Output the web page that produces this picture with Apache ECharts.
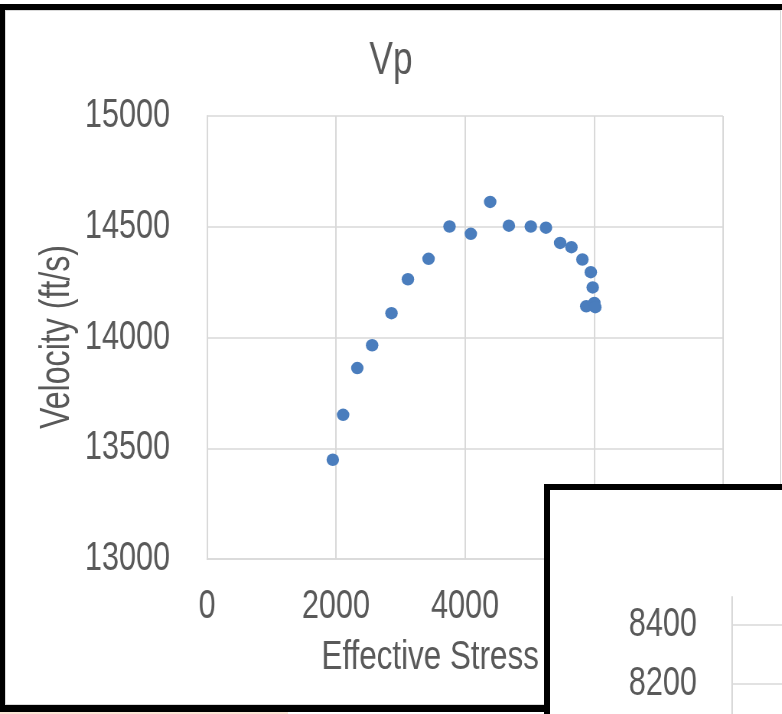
<!DOCTYPE html>
<html>
<head>
<meta charset="utf-8">
<script src="https://cdn.jsdelivr.net/npm/echarts@6/dist/echarts.min.js"></script>
<style>
  html, body { margin: 0; padding: 0; background: #fff; overflow: hidden; }
  /* Charts are laid out wide and squeezed horizontally to get narrow lettering */
  #main { position: absolute; left: 0; top: 0; width: 1022px; height: 714px;
          transform: scaleX(0.7652); transform-origin: 0 0; }
  .frame { position: absolute; left: 0; top: 4px; width: 800px; height: 708px; box-sizing: border-box;
           border-left: 5px solid #000; border-top: 6px solid #000; border-bottom: 7px solid #000; pointer-events: none; }
  .inner { position: absolute; left: 5px; top: 10px; width: 776px; height: 695px; box-sizing: border-box;
           border: 1px solid #d9d9d9; pointer-events: none; }
  .strip { position: absolute; left: 0; top: 712px; width: 288px; height: 2px; background: #fbe3d4; }
  #panel { position: absolute; left: 544px; top: 484px; width: 260px; height: 230px; box-sizing: border-box;
           border-left: 6px solid #000; border-top: 6px solid #000; background: #fff; overflow: hidden; }
  #second { position: absolute; left: 0; top: 0; width: 303px; height: 320px;
            transform: scaleX(0.7652); transform-origin: 0 0; }
</style>
</head>
<body>
<div id="main"></div>
<div class="inner"></div>
<div class="frame"></div>
<div class="strip"></div>
<div id="panel"><div id="second"></div></div>
<script>
// Effective stress (psi) and P-wave velocity (ft/s) readings
var stress = [1950, 2110, 2330, 2560, 2860, 3115, 3435, 3760, 4090, 4390, 4680,
              5020, 5255, 5475, 5650, 5820, 5950, 5980, 5880, 6005, 6020];
var velocity = [13448, 13651, 13862, 13965, 14110, 14263, 14355, 14501, 14468, 14612, 14505,
                14501, 14496, 14427, 14408, 14352, 14295, 14226, 14141, 14156, 14137];

// Axis ranges and tick spacing
var xRange = [0, 8000], xStep = 2000;
var yRange = [13000, 15000], yStep = 500;
// Neighbouring chart's velocity axis (partly visible)
var y2Range = [8000, 8495], y2Step = 200;

var SX = 0.7652;               // horizontal squeeze applied to the chart containers
var FONT = "'Liberation Sans', Arial, sans-serif";
var TEXT = '#595959';
var GRID = '#d9d9d9';
var plain = function (v) { return String(v); };

var points = stress.map(function (s, i) { return [s, velocity[i]]; });

var chart = echarts.init(document.getElementById('main'), null, { renderer: 'canvas' });
chart.setOption({
  animation: false,
  backgroundColor: '#fff',
  title: {
    text: 'Vp', left: 'center', top: 33,
    textStyle: { fontFamily: FONT, fontSize: 46, fontWeight: 'normal', color: TEXT }
  },
  grid: { left: 207 / SX, top: 116, width: 516 / SX, height: 443 },
  xAxis: {
    type: 'value', min: xRange[0], max: xRange[1], interval: xStep,
    name: 'Effective Stress (psi)', nameLocation: 'middle', nameGap: 78,
    nameTextStyle: { fontFamily: FONT, fontSize: 41, color: TEXT },
    axisLine: { show: true, lineStyle: { color: GRID, width: 1.5 } },
    axisTick: { show: false },
    axisLabel: { fontFamily: FONT, fontSize: 40, color: TEXT, margin: 28, formatter: plain },
    splitLine: { show: true, lineStyle: { color: GRID, width: 2 } }
  },
  yAxis: {
    type: 'value', min: yRange[0], max: yRange[1], interval: yStep,
    axisLine: { show: true, lineStyle: { color: GRID, width: 2 } },
    axisTick: { show: false },
    axisLabel: { fontFamily: FONT, fontSize: 40, color: TEXT, margin: 37 / SX, formatter: plain },
    splitLine: { show: true, lineStyle: { color: GRID, width: 1.5 } }
  },
  // Vertical axis title: rotated, with the squeeze moved onto its reading direction
  graphic: [{
    type: 'text', x: 57 / SX, y: 337, rotation: Math.PI / 2, scaleX: SX, scaleY: 1 / SX,
    style: { text: 'Velocity (ft/s)', fontFamily: FONT, fontSize: 42, fill: TEXT,
             textAlign: 'center', textVerticalAlign: 'middle' }
  }],
  series: [{
    type: 'scatter', data: points, symbol: 'circle', symbolSize: [12.5 / SX, 12.5],
    itemStyle: { color: '#4a7dbd', opacity: 1 }
  }]
});

var second = echarts.init(document.getElementById('second'), null, { renderer: 'canvas' });
second.setOption({
  animation: false,
  grid: { left: 182 / SX, top: 107, width: 120, height: 146 },
  xAxis: { type: 'value', show: false, min: 0, max: 1 },
  yAxis: {
    type: 'value', min: y2Range[0], max: y2Range[1], interval: y2Step,
    axisLine: { show: true, lineStyle: { color: GRID, width: 2 } },
    axisTick: { show: false },
    axisLabel: { fontFamily: FONT, fontSize: 40, color: TEXT, margin: 35 / SX,
                 showMaxLabel: false, formatter: plain },
    splitLine: { show: true, showMaxLine: false, lineStyle: { color: GRID, width: 1.5 } }
  },
  series: []
});
</script>
</body>
</html>
